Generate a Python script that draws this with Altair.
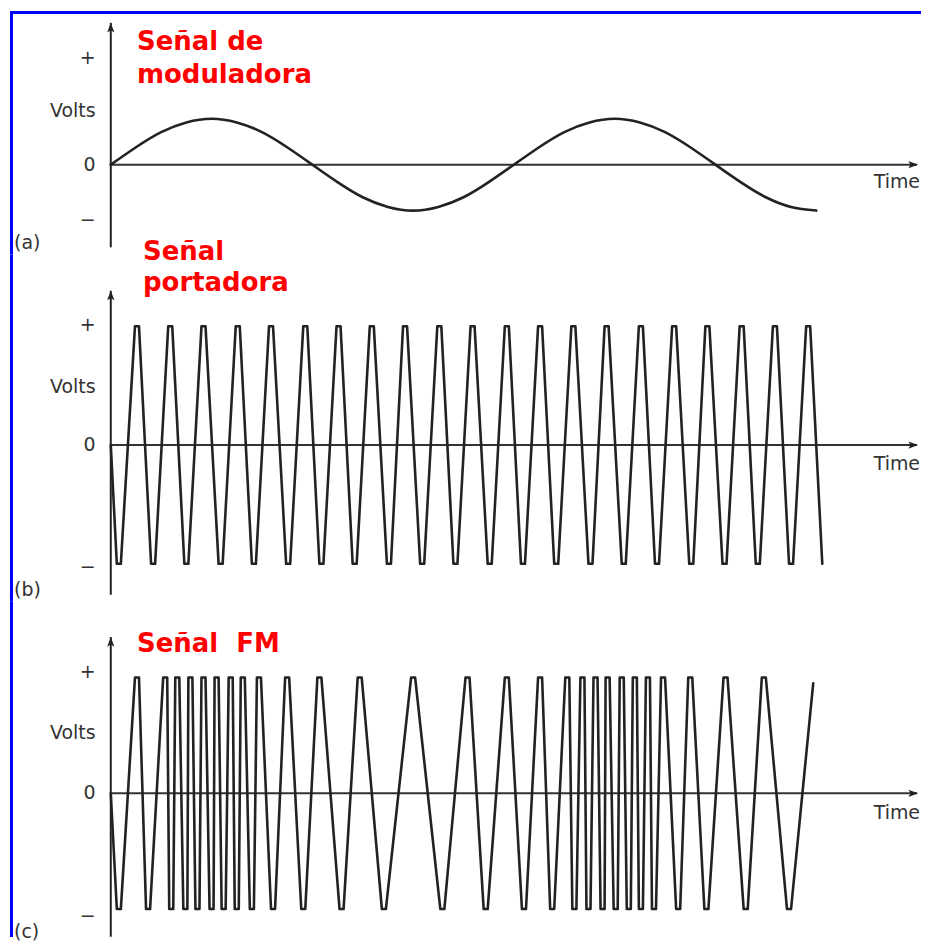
import altair as alt
import pandas as pd

# ---------------- data (time units: one modulating period = 4 units) ----------------
MOD_T = [0, 0.25, 0.5, 0.75, 1.0, 1.25, 1.5, 1.75, 2.0, 2.25, 2.5, 2.75, 3.0, 3.25,
         3.5, 3.75, 4.0, 4.25, 4.5, 4.75, 5.0, 5.25, 5.5, 5.75, 6.0, 6.25, 6.5, 6.75, 7.0]
MOD_V = [0, 0.38, 0.71, 0.92, 1.0, 0.92, 0.71, 0.38, 0, -0.38, -0.71, -0.92, -1.0, -0.92,
         -0.71, -0.38, 0, 0.38, 0.71, 0.92, 1.0, 0.92, 0.71, 0.38, 0, -0.38, -0.71, -0.92, -1.0]

CARRIER_PEAKS = [0.26, 0.59, 0.92, 1.26, 1.59, 1.93, 2.26, 2.59, 2.92, 3.26, 3.59,
                 3.93, 4.26, 4.59, 4.92, 5.26, 5.59, 5.92, 6.26, 6.59, 6.92]
CARRIER_TROUGHS = [0.08, 0.42, 0.75, 1.09, 1.42, 1.76, 2.09, 2.42, 2.76, 3.09, 3.42,
                   3.76, 4.09, 4.42, 4.76, 5.09, 5.42, 5.76, 6.09, 6.42, 6.75]
CARRIER_START = (0.0, 0.0)
CARRIER_END = (7.06, -1.0)

FM_PEAKS = [0.26, 0.54, 0.66, 0.79, 0.92, 1.05, 1.19, 1.31, 1.47, 1.75, 2.07, 2.47,
            3.00, 3.54, 3.93, 4.26, 4.53, 4.68, 4.81, 4.93, 5.07, 5.20, 5.33, 5.48,
            5.75, 6.10, 6.48]
FM_TROUGHS = [0.08, 0.37, 0.60, 0.74, 0.86, 1.00, 1.12, 1.25, 1.40, 1.61, 1.91, 2.29,
              2.71, 3.29, 3.72, 4.10, 4.38, 4.60, 4.74, 4.88, 5.01, 5.14, 5.26, 5.39,
              5.63, 5.91, 6.30, 6.73]
FM_START = (0.0, 0.0)
FM_END = (6.97, 0.95)

TICK_TEXT = ["+", "Volts", "0", "\u2212"]
TICK_POS_A = [2.33, 1.17, 0, -1.2]
TICK_POS_B = [1.01, 0.49, 0, -1.03]
TICK_POS_C = [1.05, 0.52, 0, -1.06]

TITLE_A = ["Se\u00f1al de", "moduladora"]
TITLE_B = ["Se\u00f1al", "portadora"]
TITLE_C = ["Se\u00f1al\u00a0 FM"]
PANEL_TAGS = ["(a)", "(b)", "(c)"]
TIME_LABEL = "Time"

# ---------------- layout ----------------
PX = 101.0              # px per time unit
PANEL_W = 913
X_DOMAIN = [-1.0, -1.0 + PANEL_W / PX]
INK = "#222222"
LABEL = "#333333"
RED = "#ff0000"
BLUE = "#0000ff"
FONT = "DejaVu Sans"


def wave_points(start, peaks, troughs, end, d=0.02):
    turns = sorted([(t, 1.0) for t in peaks] + [(t, -1.0) for t in troughs])
    rows = [{"t": start[0], "v": start[1]}]
    for t, v in turns:
        rows.append({"t": t - d, "v": v})
        rows.append({"t": t + d, "v": v})
    rows.append({"t": end[0], "v": end[1]})
    df = pd.DataFrame(rows)
    df["i"] = range(len(df))
    return df


def panel(height, zero_px, ppu, wave_df, wave_interp, ticks, axis_top, axis_bottom,
          tag, tag_y, time_y, titles, title_x, title_ys, top_border=False):
    ydom = [-(height - zero_px) / ppu, zero_px / ppu]
    xs = alt.Scale(domain=X_DOMAIN, nice=False, zero=False)
    ys = alt.Scale(domain=ydom, nice=False, zero=False)
    X = lambda f: alt.X(f, type="quantitative", scale=xs, axis=None)
    Y = lambda f: alt.Y(f, type="quantitative", scale=ys, axis=None)

    layers = []
    # blue frame (left)
    frame = pd.DataFrame({"t": [X_DOMAIN[0] + 1.5 / PX], "v": [ydom[0]], "v2": [ydom[1]]})
    layers.append(alt.Chart(frame).mark_rule(color=BLUE, strokeWidth=3).encode(
        x=X("t"), y=Y("v"), y2="v2"))
    if top_border:
        tb = pd.DataFrame({"t": [X_DOMAIN[0] + 1.5 / PX], "t2": [X_DOMAIN[1]],
                           "v": [ydom[1] - 1.5 / ppu]})
        layers.append(alt.Chart(tb).mark_rule(color=BLUE, strokeWidth=3).encode(
            x=X("t"), x2="t2", y=Y("v")))

    # vertical axis + arrow
    va = pd.DataFrame({"t": [0.0], "v": [axis_bottom], "v2": [axis_top]})
    layers.append(alt.Chart(va).mark_rule(color=INK, strokeWidth=2).encode(
        x=X("t"), y=Y("v"), y2="v2"))
    up = pd.DataFrame({"t": [0.0], "v": [axis_top - 6 / ppu]})
    layers.append(alt.Chart(up).mark_point(
        shape="M0,-1L0.6,0.6L0,0.25L-0.6,0.6Z", filled=True, size=144,
        color=INK, opacity=1, strokeWidth=0).encode(x=X("t"), y=Y("v")))

    # horizontal time axis + arrow
    ha = pd.DataFrame({"t": [0.0], "t2": [8.0], "v": [0.0]})
    layers.append(alt.Chart(ha).mark_rule(color="#333333", strokeWidth=2).encode(
        x=X("t"), x2="t2", y=Y("v")))
    rt = pd.DataFrame({"t": [8.01 - 6 / PX], "v": [0.0]})
    layers.append(alt.Chart(rt).mark_point(
        shape="M1,0L-0.6,0.6L-0.25,0L-0.6,-0.6Z", filled=True, size=144,
        color=INK, opacity=1, strokeWidth=0).encode(x=X("t"), y=Y("v")))

    # waveform
    layers.append(alt.Chart(wave_df).mark_line(
        color=INK, strokeWidth=2.6, strokeJoin="round", strokeCap="round",
        interpolate=wave_interp).encode(x=X("t"), y=Y("v"), order="i:Q"))

    # tick-like labels
    tk = pd.DataFrame({"label": TICK_TEXT, "v": ticks, "t": [-0.15] * 4})
    layers.append(alt.Chart(tk).mark_text(
        align="right", baseline="middle", font=FONT, fontSize=19, color=LABEL).encode(
        x=X("t"), y=Y("v"), text="label:N"))

    # panel tag
    tg = pd.DataFrame({"label": [tag], "t": [-0.96], "v": [tag_y]})
    layers.append(alt.Chart(tg).mark_text(
        align="left", baseline="middle", font=FONT, fontSize=19, color=LABEL).encode(
        x=X("t"), y=Y("v"), text="label:N"))

    # Time label
    tl = pd.DataFrame({"label": [TIME_LABEL], "t": [8.03], "v": [time_y]})
    layers.append(alt.Chart(tl).mark_text(
        align="right", baseline="alphabetic", font=FONT, fontSize=19, color=LABEL).encode(
        x=X("t"), y=Y("v"), text="label:N"))

    # red titles
    tt = pd.DataFrame({"label": titles, "t": [title_x] * len(titles), "v": title_ys})
    layers.append(alt.Chart(tt).mark_text(
        align="left", baseline="alphabetic", font=FONT, fontSize=26, fontWeight="bold",
        color=RED).encode(x=X("t"), y=Y("v"), text="label:N"))

    return alt.layer(*layers).properties(width=PANEL_W, height=height)


mod_df = pd.DataFrame({"t": MOD_T, "v": MOD_V})
mod_df["i"] = range(len(mod_df))
car_df = wave_points(CARRIER_START, CARRIER_PEAKS, CARRIER_TROUGHS, CARRIER_END)
fm_df = wave_points(FM_START, FM_PEAKS, FM_TROUGHS, FM_END)

pa = panel(244, 154, 46, mod_df, "natural", TICK_POS_A, 3.09, -1.80,
           PANEL_TAGS[0], -1.70, -0.50, TITLE_A, 0.26, [2.5, 1.78], top_border=True)
pb = panel(348, 191, 119, car_df, "linear", TICK_POS_B, 1.30, -1.26,
           PANEL_TAGS[1], -1.22, -0.21, TITLE_B, 0.32, [1.56, 1.30])
pc = panel(336, 192, 116, fm_df, "linear", TICK_POS_C, 1.35, -1.24,
           PANEL_TAGS[2], -1.20, -0.22, TITLE_C, 0.26, [1.22])

chart = alt.vconcat(pa, pb, pc, spacing=0, bounds="flush").properties(
    padding={"left": 2, "top": 0, "right": 0, "bottom": 0},
    background="white",
).configure_view(strokeWidth=0)

chart.save("out.html", embed_options={"renderer": "svg", "actions": False})
